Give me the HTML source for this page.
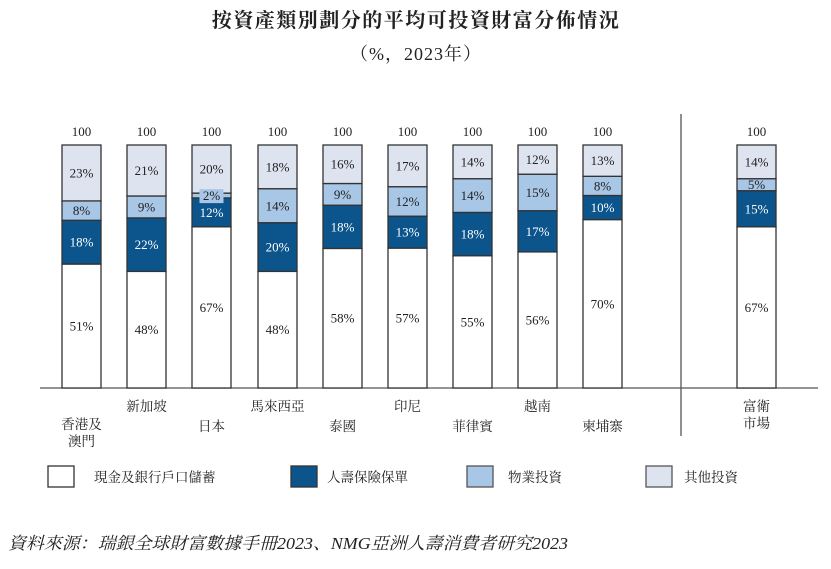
<!DOCTYPE html>
<html><head><meta charset="utf-8"><style>
body{margin:0;background:#fff;width:831px;height:564px;overflow:hidden}
svg text{font-family:"Liberation Serif","Noto Serif CJK SC","Noto Sans CJK TC",serif;fill:#222}
</style></head><body>
<svg id="s" width="831" height="564" xmlns="http://www.w3.org/2000/svg">
<text x="416" y="27" text-anchor="middle" font-size="20" font-weight="bold" letter-spacing="1.5">按資產類別劃分的平均可投資財富分佈情況</text>
<text x="416" y="60" text-anchor="middle" font-size="18" letter-spacing="1">（%，2023年）</text>
<line x1="40" y1="388" x2="818" y2="388" stroke="#555" stroke-width="1.3"/>
<line x1="681" y1="114" x2="681" y2="436" stroke="#555" stroke-width="1.3"/>
<g id="bars"></g>
<g font-size="13.5">
<rect x="48" y="466" width="26" height="21" fill="#fff" stroke="#333" stroke-width="1.3"/>
<text x="94" y="482">現金及銀行戶口儲蓄</text>
<rect x="291" y="466" width="26" height="21" fill="#0b548c" stroke="#333" stroke-width="1.3"/>
<text x="327" y="482">人壽保險保單</text>
<rect x="467" y="466" width="26" height="21" fill="#a8c6e6" stroke="#555" stroke-width="1.3"/>
<text x="508" y="482">物業投資</text>
<rect x="646" y="466" width="26" height="21" fill="#dde4ef" stroke="#555" stroke-width="1.3"/>
<text x="684" y="482">其他投資</text>
</g>
<text x="8" y="549" font-size="17" font-style="italic" textLength="560" lengthAdjust="spacingAndGlyphs">資料來源：瑞銀全球財富數據手冊2023、NMG亞洲人壽消費者研究2023</text>
</svg>
<script>
var D=[[62,[51,18,8,23],["香港及","澳門"],429],[127,[48,22,9,21],["新加坡"],411],[192,[67,12,2,20],["日本"],431],
[258,[48,20,14,18],["馬來西亞"],411],[323,[58,18,9,16],["泰國"],431],[388,[57,13,12,17],["印尼"],411],
[453,[55,18,14,14],["菲律賓"],431],[518,[56,17,15,12],["越南"],411],[583,[70,10,8,13],["柬埔寨"],431],[737,[67,15,5,14],["富衛","市場"],411]];
var C=["#fff","#0b548c","#a8c6e6","#dde4ef"],h="";
D.forEach(function(d){var x=d[0],w=39,v=d[1],s=v[0]+v[1]+v[2]+v[3],y=388,cx=x+w/2;
 var segs=[];
 for(var i=0;i<4;i++){var hh=243*v[i]/s;y-=hh;segs.push([y,hh]);
  h+='<rect x="'+x+'" y="'+y.toFixed(1)+'" width="'+w+'" height="'+hh.toFixed(1)+'" fill="'+C[i]+'" stroke="#333" stroke-width="1.3"/>';}
 for(var i=0;i<4;i++){var ty=segs[i][0]+segs[i][1]/2+4.5;
  if(v[i]==2){h+='<rect x="'+(cx-12)+'" y="'+(segs[i][0]-4)+'" width="24" height="14" fill="#a8c6e6"/>';ty=segs[i][0]+7;}
  h+='<text x="'+cx+'" y="'+ty.toFixed(1)+'" text-anchor="middle" font-size="13" style="fill:'+(i==1?"#fff":"#222")+'">'+v[i]+'%</text>';}
 h+='<text x="'+cx+'" y="136" text-anchor="middle" font-size="13">100</text>';
 d[2].forEach(function(t,k){h+='<text x="'+cx+'" y="'+(d[3]+k*17)+'" text-anchor="middle" font-size="13.5">'+t+'</text>';});
});
document.getElementById("bars").innerHTML=h;
</script>
</body></html>
